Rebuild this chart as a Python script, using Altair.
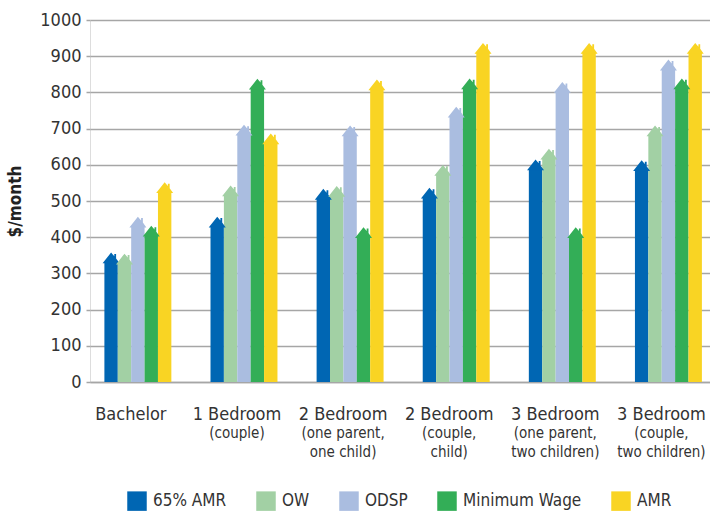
import altair as alt
import pandas as pd

# ---- data ----
cat_main = ["Bachelor", "1 Bedroom", "2 Bedroom", "2 Bedroom", "3 Bedroom", "3 Bedroom"]
cat_sub = ["", "(couple)", "(one parent,\none child)", "(couple,\nchild)",
           "(one parent,\ntwo children)", "(couple,\ntwo children)"]
series = ["65% AMR", "OW", "ODSP", "Minimum Wage", "AMR"]
colors = ["#0066b3", "#a2d0a4", "#aabde0", "#33ae57", "#f9d423"]

amr65 = [330, 429, 506, 509, 587, 585]
ow = [327, 515, 514, 572, 617, 681]
odsp = [429, 683, 681, 733, 801, 863]
min_wage = [404, 810, 400, 811, 400, 811]
amr = [524, 659, 808, 909, 909, 909]

y_ticks = list(range(0, 1001, 100))

keys = [f"{m}|{s}" for m, s in zip(cat_main, cat_sub)]
rows = []
for sname, vals in zip(series, [amr65, ow, odsp, min_wage, amr]):
    for k, v in zip(keys, vals):
        rows.append({"key": k, "series": sname, "value": v})
df = pd.DataFrame(rows)
sub_df = pd.DataFrame({"key": keys, "sub": cat_sub})

FONT = "DejaVu Sans Condensed, Liberation Sans Narrow, Arial Narrow, sans-serif"
GRID = "#a6a6a6"
TXT = "#333333"

ROOF = "M -0.85 0.08 L 0 -1 L 0.32 -0.62 L 0.32 -0.86 L 0.5 -0.86 L 0.5 -0.41 L 0.85 0.08 Z"

x_enc = alt.X(
    "key:N", sort=keys,
    scale=alt.Scale(paddingInner=0.369, paddingOuter=0.106, align=0.64),
    axis=alt.Axis(title=None, labelExpr="split(datum.label, '|')[0]", labelAngle=0,
                  ticks=False, labelPadding=23, labelFontSize=18, labelFont=FONT,
                  labelColor=TXT, domainColor=GRID, domainWidth=1.5, labelOffset=-7,
                  grid=False, labelBaseline="top"),
)
xo_enc = alt.XOffset("series:N", sort=series, scale=alt.Scale(paddingInner=0, paddingOuter=0))
y_enc = alt.Y(
    "value:Q", scale=alt.Scale(domain=[0, 1000], nice=False),
    axis=alt.Axis(values=y_ticks, format="d", title="$/month", grid=True, gridColor=GRID,
                  gridWidth=1.5, domain=False, ticks=True, tickColor=GRID, tickSize=4,
                  tickWidth=1.5, labelPadding=5, labelFontSize=18, labelFont=FONT,
                  labelColor=TXT, titleFontSize=17, titleFont=FONT, titleFontWeight="bold",
                  titleColor="#222222", titleAngle=270, titleX=-75, titleY=181,
                  titleAlign="center", titleBaseline="middle"),
)
color_enc = alt.Color(
    "series:N", sort=series,
    scale=alt.Scale(domain=series, range=colors),
    legend=alt.Legend(title=None, orient="none", direction="horizontal", legendX=37, legendY=471,
                      symbolType="square", symbolSize=380, symbolStrokeWidth=0, symbolOpacity=1,
                      labelFontSize=17, labelFont=FONT, labelColor=TXT, labelOffset=6,
                      columnPadding=29, padding=0),
)

bars = alt.Chart(df).mark_bar(opacity=1).encode(x=x_enc, xOffset=xo_enc, y=y_enc, color=color_enc)
roofs = alt.Chart(df).mark_point(shape=ROOF, size=400, filled=True, opacity=1, strokeWidth=0).encode(
    x=x_enc, xOffset=xo_enc, y=y_enc, color=color_enc)
subs = alt.Chart(sub_df).mark_text(fontSize=15, font=FONT, color=TXT, lineBreak="\n", lineHeight=19,
                                   baseline="alphabetic", align="center", dx=-7).encode(
    x=alt.X("key:N", sort=keys), y=alt.value(418), text="sub:N")

chart = alt.layer(bars, roofs, subs).properties(
    width=620, height=362,
    padding={"left": 90, "top": 20, "right": 0, "bottom": 132},
    autosize=alt.AutoSizeParams(type="none"),
).configure_view(stroke=None).configure(background="white")

chart.save("out.html", embed_options={"renderer": "svg", "actions": False})
